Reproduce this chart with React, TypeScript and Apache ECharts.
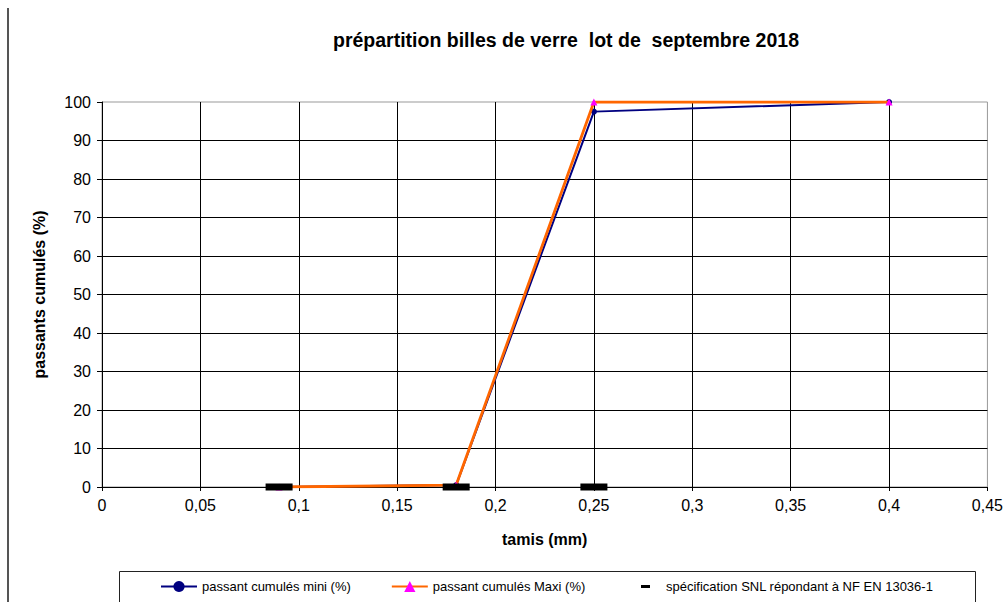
import React, { useEffect, useRef } from "react";
import * as echarts from "echarts";

const FONT = "'Liberation Sans', Arial, sans-serif";

const TITLE = "prépartition billes de verre  lot de  septembre 2018";
const X_NAME = "tamis (mm)";
const Y_NAME = "passants cumulés (%)";

const xTickLabels = ["0", "0,05", "0,1", "0,15", "0,2", "0,25", "0,3", "0,35", "0,4", "0,45"];
const yTickLabels = ["0", "10", "20", "30", "40", "50", "60", "70", "80", "90", "100"];

const sieves = [0.09, 0.18, 0.25, 0.4];
const passMini = [0, 0.5, 97.5, 100];
const passMaxi = [0, 0.5, 100, 100];

const specSieves = [0.09, 0.18, 0.25];
const specValues = [0, 0, 0];

const NAME_MINI = "passant cumulés mini (%)";
const NAME_MAXI = "passant cumulés Maxi (%)";
const NAME_SPEC = "spécification SNL répondant à NF EN 13036-1";

export default function App() {
  const ref = useRef<HTMLDivElement>(null);
  useEffect(() => {
    if (!ref.current) return;
    const chart = echarts.init(ref.current, undefined, { renderer: "svg" });
    const pairs = (xs: number[], ys: number[]) => xs.map((x, i) => [x, ys[i]]);
    chart.setOption({
      animation: false,
      backgroundColor: "#fff",
      textStyle: { fontFamily: FONT },
      title: {
        text: TITLE,
        left: 566,
        textAlign: "center",
        top: 30,
        padding: 0,
        textStyle: { fontFamily: FONT, fontSize: 19.5, fontWeight: "bold", color: "#000" },
      },
      grid: {
        left: 102,
        right: 15,
        top: 102,
        bottom: 115,
        show: true,
        borderColor: "#999",
        borderWidth: 1,
      },
      xAxis: {
        type: "value",
        min: 0,
        max: 0.45,
        interval: 0.05,
        name: X_NAME,
        nameLocation: "middle",
        nameGap: 44,
        nameTextStyle: { fontFamily: FONT, fontSize: 16, fontWeight: "bold", color: "#000" },
        axisLine: { show: true, lineStyle: { color: "#000", width: 1 } },
        axisTick: { show: true, length: 4, lineStyle: { color: "#000" } },
        axisLabel: {
          margin: 10,
          fontFamily: FONT,
          fontSize: 16,
          color: "#000",
          formatter: (_v: number, i: number) => xTickLabels[i] ?? "",
        },
        splitLine: { show: true, showMaxLine: false, lineStyle: { color: "#000", width: 1 } },
      },
      yAxis: {
        type: "value",
        min: 0,
        max: 100,
        interval: 10,
        name: Y_NAME,
        nameLocation: "middle",
        nameRotate: 90,
        nameGap: 55,
        nameTextStyle: { fontFamily: FONT, fontSize: 16, fontWeight: "bold", color: "#000" },
        axisLine: { show: true, lineStyle: { color: "#000", width: 1 } },
        axisTick: { show: true, length: 5, lineStyle: { color: "#000" } },
        axisLabel: {
          margin: 11,
          fontFamily: FONT,
          fontSize: 16,
          color: "#000",
          formatter: (_v: number, i: number) => yTickLabels[i] ?? "",
        },
        splitLine: { show: true, showMaxLine: false, lineStyle: { color: "#000", width: 1 } },
      },
      legend: [
        {
          data: [NAME_MINI, NAME_MAXI],
          left: 160,
          top: 580,
          padding: 0,
          itemWidth: 36,
          itemHeight: 14,
          itemGap: 40,
          textStyle: { fontFamily: FONT, fontSize: 13, color: "#000" },
        },
        {
          data: [NAME_SPEC],
          left: 641,
          top: 580,
          padding: 0,
          itemWidth: 9,
          itemHeight: 3,
          icon: "rect",
          textStyle: { fontFamily: FONT, fontSize: 13, color: "#000", padding: [0, 0, 0, 11] },
        },
      ],
      graphic: [
        {
          type: "line",
          shape: { x1: 8, y1: 8, x2: 8, y2: 602 },
          style: { stroke: "#555", lineWidth: 2 },
          silent: true,
        },
        {
          type: "rect",
          shape: { x: 119.5, y: 571.5, width: 856, height: 40 },
          style: { stroke: "#222", lineWidth: 1, fill: "none" },
          silent: true,
          z: -1,
        },
      ],
      series: [
        {
          name: NAME_MINI,
          type: "line",
          data: pairs(sieves, passMini),
          symbol: "circle",
          symbolSize: 6,
          lineStyle: { color: "#000080", width: 2 },
          itemStyle: { color: "#000080" },
          z: 2,
        },
        {
          name: NAME_MAXI,
          type: "line",
          data: pairs(sieves, passMaxi),
          symbol: "triangle",
          symbolSize: 7,
          lineStyle: { color: "#FF6600", width: 2.8 },
          itemStyle: { color: "#FF00FF" },
          z: 3,
        },
        {
          name: NAME_SPEC,
          type: "scatter",
          data: pairs(specSieves, specValues),
          symbol: "rect",
          symbolSize: [27, 7],
          itemStyle: { color: "#000", opacity: 1 },
          z: 4,
        },
      ],
    });
    return () => chart.dispose();
  }, []);
  return (
    <div
      ref={ref}
      style={{ position: "fixed", left: 0, top: 0, width: 1006, height: 602, background: "#fff" }}
    />
  );
}
